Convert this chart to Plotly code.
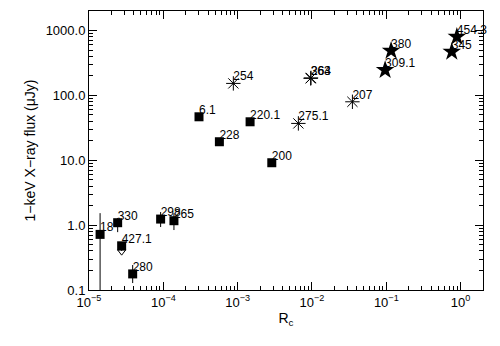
import plotly.graph_objects as go

# Squares (filled) with optional error bars
sq_labels = ["18", "330", "427.1", "280", "298", "265", "6.1", "220.1", "228", "200"]
sq_x = [1.41e-5, 2.43e-5, 2.75e-5, 3.87e-5, 9.2e-5, 1.39e-4, 3.02e-4, 1.47e-3, 5.68e-4, 2.88e-3]
sq_y = [0.72, 1.09, 0.48, 0.177, 1.24, 1.17, 46.8, 39.2, 19.3, 9.16]
sq_yhi = [1.53, 1.29, 0.48, 0.243, 1.59, 1.53, 46.8, 39.2, 19.3, 9.16]
sq_ylo = [0.08, 0.78, 0.40, 0.128, 0.935, 0.84, 46.8, 39.2, 19.3, 8.7]

# upper-limit arrow tip
lim_x = [2.75e-5]
lim_y = [0.39]

# Asterisks
ast_labels = ["254", "363", "264", "275.1", "207"]
ast_x = [8.75e-4, 9.6e-3, 9.7e-3, 6.56e-3, 0.035]
ast_y = [153, 183, 186, 37, 79.7]

# Stars
star_labels = ["380", "309.1", "454.3", "345"]
star_x = [0.116, 0.0964, 0.89, 0.76]
star_y = [487, 245, 800, 470]

xtick_vals = [1e-5, 1e-4, 1e-3, 1e-2, 1e-1, 1e0]
xtick_text = ["10<sup>−5</sup>", "10<sup>−4</sup>", "10<sup>−3</sup>", "10<sup>−2</sup>",
              "10<sup>−1</sup>", "10<sup>0</sup>"]
ytick_vals = [0.1, 1, 10, 100, 1000]
ytick_text = ["0.1", "1.0", "10.0", "100.0", "1000.0"]

x_minor = [m * 10.0 ** e for e in range(-5, 1) for m in range(2, 10) if m * 10.0 ** e <= 2.0]
y_minor = [m * 10.0 ** e for e in range(-1, 4) for m in range(2, 10) if m * 10.0 ** e <= 2000.0]

XR = [-5, 0.30103]
YR = [-1, 3.30103]

FONT = "Liberation Sans"
fig = go.Figure()

# invisible trace on the minor-tick overlay axes
fig.add_trace(go.Scatter(x=[1e-3], y=[1], xaxis="x2", yaxis="y2", mode="markers",
                         marker=dict(opacity=0), hoverinfo="skip", showlegend=False))

# labels first so markers sit on top
all_x = sq_x + ast_x + star_x
all_y = sq_y + ast_y + star_y
all_lab = sq_labels + ast_labels + star_labels
fig.add_trace(go.Scatter(x=all_x, y=all_y, mode="text", text=all_lab,
                         textposition="top right", cliponaxis=False,
                         textfont=dict(family=FONT, size=12, color="black"),
                         hoverinfo="skip", showlegend=False))

err_plus = [h - v for h, v in zip(sq_yhi, sq_y)]
err_minus = [v - l for v, l in zip(sq_y, sq_ylo)]
fig.add_trace(go.Scatter(
    x=sq_x, y=sq_y, mode="markers",
    marker=dict(symbol="square", size=9, color="black"),
    error_y=dict(type="data", symmetric=False, array=err_plus, arrayminus=err_minus,
                 color="black", thickness=1, width=0),
    showlegend=False))
fig.add_trace(go.Scatter(
    x=lim_x, y=lim_y, mode="markers",
    marker=dict(symbol="triangle-down-open", size=7, color="black", line=dict(width=1)),
    showlegend=False))
fig.add_trace(go.Scatter(
    x=ast_x, y=ast_y, mode="markers",
    marker=dict(symbol="asterisk-open", size=12, color="black", line=dict(width=1, color="black")),
    showlegend=False))
fig.add_trace(go.Scatter(
    x=star_x, y=star_y, mode="markers",
    marker=dict(symbol="star", size=14, color="black", line=dict(width=0)),
    showlegend=False))

axis_common = dict(type="log", showgrid=False, zeroline=False, showline=True,
                   linecolor="black", linewidth=1, mirror="allticks",
                   ticks="inside", ticklen=8, tickcolor="black", tickwidth=1,
                   tickfont=dict(family=FONT, size=13, color="black"))

minor_common = dict(type="log", showgrid=False, zeroline=False, showline=False,
                    mirror="allticks", ticks="inside", ticklen=4, tickcolor="black",
                    tickwidth=1, showticklabels=False)

fig.update_layout(
    xaxis=dict(**axis_common, range=XR, tickvals=xtick_vals, ticktext=xtick_text,
               title=dict(text="R<sub>c</sub>", font=dict(family=FONT, size=14, color="black"),
                          standoff=4)),
    yaxis=dict(**axis_common, range=YR, tickvals=ytick_vals, ticktext=ytick_text,
               title=dict(text="1−keV X−ray flux (μJy)",
                          font=dict(family=FONT, size=14, color="black"), standoff=6)),
    xaxis2=dict(**minor_common, range=XR, tickvals=x_minor, overlaying="x", anchor="y2"),
    yaxis2=dict(**minor_common, range=YR, tickvals=y_minor, overlaying="y", anchor="x2"),
    width=500, height=346, margin=dict(l=89, r=17, t=11, b=56),
    paper_bgcolor="white", plot_bgcolor="white")

fig.write_html("out.html")
